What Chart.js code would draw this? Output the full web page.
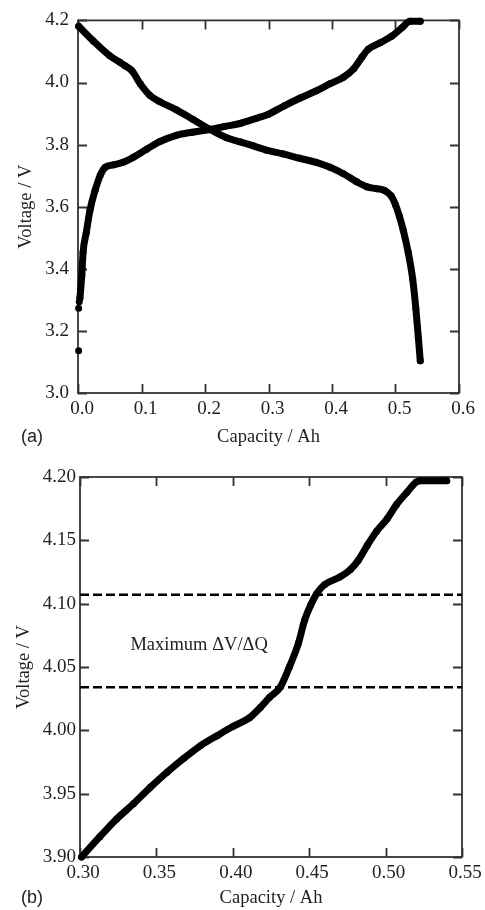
<!DOCTYPE html>
<html>
<head>
<meta charset="utf-8">
<title>Voltage vs capacity</title>
<script src="https://cdn.jsdelivr.net/npm/chart.js@4/dist/chart.umd.min.js"></script>
<style>
  html, body { margin: 0; padding: 0; background: #fff; }
  #wrap { position: relative; width: 485px; height: 910px; }
  canvas { position: absolute; left: 0; }
</style>
</head>
<body>
<div id="wrap">
  <canvas id="panelA" width="485" height="455" style="top:0"></canvas>
  <canvas id="panelB" width="485" height="455" style="top:455px"></canvas>
</div>
<script>
// ---- Panel (a): full discharge and charge curves ----
const dischargeCap = [0.001, 0.024, 0.050, 0.066, 0.074, 0.085, 0.098, 0.113, 0.129, 0.155,
  0.182, 0.208, 0.234, 0.255, 0.276, 0.297, 0.323, 0.349, 0.375, 0.397,
  0.418, 0.439, 0.455, 0.470, 0.483, 0.493, 0.500, 0.506, 0.512, 0.520,
  0.527, 0.532, 0.536, 0.539];
const dischargeV = [4.181, 4.134, 4.086, 4.065, 4.054, 4.038, 3.996, 3.959, 3.938, 3.912,
  3.880, 3.849, 3.822, 3.809, 3.796, 3.782, 3.770, 3.756, 3.743, 3.727,
  3.706, 3.680, 3.664, 3.658, 3.652, 3.635, 3.606, 3.570, 3.526, 3.453,
  3.368, 3.273, 3.178, 3.104];

// first few logged charge samples, before the curve becomes continuous
const chargeStartCap = [0.001, 0.001, 0.002];
const chargeStartV = [3.136, 3.273, 3.294];

const chargeCap = [0.003, 0.006, 0.008, 0.013, 0.019, 0.027, 0.035, 0.043, 0.056, 0.071,
  0.087, 0.108, 0.129, 0.155, 0.180, 0.205, 0.230, 0.255, 0.280, 0.300,
  0.325, 0.350, 0.375, 0.397, 0.418, 0.434, 0.447, 0.457, 0.476, 0.494,
  0.510, 0.523, 0.539];
const chargeV = [3.305, 3.379, 3.453, 3.516, 3.590, 3.653, 3.701, 3.727, 3.735, 3.743,
  3.759, 3.785, 3.810, 3.830, 3.840, 3.848, 3.858, 3.868, 3.884, 3.898,
  3.925, 3.950, 3.973, 3.996, 4.017, 4.044, 4.081, 4.107, 4.128, 4.149,
  4.176, 4.197, 4.197];

// ---- Panel (b): end of charge, enlarged ----
const endCap = [0.301, 0.313, 0.324, 0.335, 0.346, 0.357, 0.368, 0.379, 0.390, 0.400,
  0.411, 0.418, 0.424, 0.431, 0.437, 0.443, 0.447, 0.451, 0.455, 0.460,
  0.470, 0.477, 0.482, 0.488, 0.494, 0.501, 0.507, 0.514, 0.520, 0.523, 0.540];
const endV = [3.900, 3.916, 3.930, 3.942, 3.955, 3.967, 3.978, 3.988, 3.996, 4.003,
  4.010, 4.018, 4.026, 4.034, 4.050, 4.069, 4.087, 4.099, 4.108, 4.115,
  4.121, 4.127, 4.134, 4.146, 4.157, 4.167, 4.178, 4.188, 4.196, 4.197, 4.197];

// voltage window of the steepest dV/dQ step
const dvdqBounds = [4.034, 4.107];

// axis ranges and tick steps
const axisA = { xMin: 0, xMax: 0.6, xStep: 0.1, xDec: 1, yMin: 3.0, yMax: 4.2, yStep: 0.2, yDec: 1 };
const axisB = { xMin: 0.30, xMax: 0.55, xStep: 0.05, xDec: 2, yMin: 3.90, yMax: 4.20, yStep: 0.05, yDec: 2 };

const TEXT = '#222';
const SERIF = '"Liberation Serif", "Times New Roman", Times, serif';
const SANS = '"Liberation Sans", Arial, Helvetica, sans-serif';

const toPoints = (xs, ys) => xs.map((x, i) => ({ x, y: ys[i] }));

// box frame with inward tick marks on all four sides, plus panel letter and note
const framePlugin = {
  id: 'frame',
  beforeDatasetsDraw(chart, args, opts) {
    const { ctx, chartArea: a, scales } = chart;
    const L = 9;
    ctx.save();
    ctx.strokeStyle = '#333';
    ctx.lineWidth = 1.8;
    ctx.strokeRect(a.left, a.top, a.right - a.left, a.bottom - a.top);
    ctx.beginPath();
    scales.x.ticks.forEach(t => {
      const px = Math.round(scales.x.getPixelForValue(t.value)) + 0.5;
      ctx.moveTo(px, a.bottom); ctx.lineTo(px, a.bottom - L);
      ctx.moveTo(px, a.top); ctx.lineTo(px, a.top + L);
    });
    scales.y.ticks.forEach(t => {
      const py = Math.round(scales.y.getPixelForValue(t.value)) + 0.5;
      ctx.moveTo(a.left, py); ctx.lineTo(a.left + L, py);
      ctx.moveTo(a.right, py); ctx.lineTo(a.right - L, py);
    });
    ctx.stroke();
    ctx.restore();
  },
  afterDraw(chart, args, opts) {
    const { ctx, scales } = chart;
    ctx.save();
    ctx.fillStyle = TEXT;
    ctx.textBaseline = 'middle';
    if (opts.panel) {
      ctx.font = '18px ' + SANS;
      ctx.textAlign = 'left';
      ctx.fillText(opts.panel.text, opts.panel.x, opts.panel.y);
    }
    if (opts.note) {
      ctx.font = '18.5px ' + SERIF;
      ctx.textAlign = 'left';
      ctx.fillText(opts.note.text,
        scales.x.getPixelForValue(opts.note.xValue),
        scales.y.getPixelForValue(opts.note.yValue));
    }
    ctx.restore();
  }
};

function makePanel(canvas, axis, datasets, box, extras) {
  return new Chart(canvas, {
    type: 'scatter',
    data: { datasets },
    options: {
      responsive: false,
      animation: false,
      events: [],
      layout: { padding: { left: 0, top: box.top, right: box.right, bottom: 0 } },
      plugins: {
        legend: { display: false },
        tooltip: { enabled: false },
        frame: extras
      },
      scales: {
        x: {
          type: 'linear',
          min: axis.xMin, max: axis.xMax,
          grid: { display: false, drawTicks: false },
          border: { display: false },
          ticks: {
            stepSize: axis.xStep, autoSkip: false, maxRotation: 0,
            padding: box.xTickPad, labelOffset: box.xLabelShift,
            color: TEXT, font: { family: SERIF, size: 19 },
            callback: v => Number(v).toFixed(axis.xDec)
          },
          title: {
            display: true, text: 'Capacity / Ah', color: TEXT,
            font: { family: SERIF, size: 18.5 },
            padding: { top: box.xTitlePad, bottom: box.xTitlePad }
          },
          afterFit(s) { s.height = box.xAxisHeight; }
        },
        y: {
          type: 'linear',
          min: axis.yMin, max: axis.yMax,
          grid: { display: false, drawTicks: false },
          border: { display: false },
          ticks: {
            stepSize: axis.yStep, autoSkip: false,
            padding: box.yTickPad,
            color: TEXT, font: { family: SERIF, size: 19 },
            callback: v => Number(v).toFixed(axis.yDec)
          },
          title: {
            display: true, text: 'Voltage / V', color: TEXT,
            font: { family: SERIF, size: 18.5 },
            padding: { top: box.yTitlePad, bottom: box.yTitlePad }
          },
          afterFit(s) { s.width = box.yAxisWidth; }
        }
      }
    },
    plugins: [framePlugin]
  });
}

const curveStyle = {
  showLine: true,
  cubicInterpolationMode: 'monotone',
  borderColor: '#000',
  backgroundColor: '#000',
  borderWidth: 7,
  borderCapStyle: 'round',
  borderJoinStyle: 'round',
  pointRadius: 3.5,
  pointBorderWidth: 0,
  pointBackgroundColor: '#000',
  clip: false
};

makePanel(document.getElementById('panelA'), axisA, [
  { ...curveStyle, label: 'Discharge', data: toPoints(dischargeCap, dischargeV) },
  { ...curveStyle, label: 'Charge', data: toPoints(chargeCap, chargeV) },
  { ...curveStyle, label: 'Charge start', showLine: false, data: toPoints(chargeStartCap, chargeStartV) }
], {
  top: 14, right: 26, yAxisWidth: 78, xAxisHeight: 62,
  xTickPad: 5, xLabelShift: 4, yTickPad: 9, xTitlePad: 7, yTitlePad: 15
}, {
  panel: { text: '(a)', x: 21, y: 437 }
});

const dashStyle = {
  showLine: true,
  borderColor: '#000',
  borderWidth: 2.4,
  borderDash: [9, 4],
  pointRadius: 0,
  clip: false
};

makePanel(document.getElementById('panelB'), axisB, [
  { ...curveStyle, label: 'Charge', data: toPoints(endCap, endV) },
  { ...dashStyle, label: 'Lower bound', data: [{ x: axisB.xMin, y: dvdqBounds[0] }, { x: axisB.xMax, y: dvdqBounds[0] }] },
  { ...dashStyle, label: 'Upper bound', data: [{ x: axisB.xMin, y: dvdqBounds[1] }, { x: axisB.xMax, y: dvdqBounds[1] }] }
], {
  top: 22, right: 23, yAxisWidth: 80, xAxisHeight: 53,
  xTickPad: 5, xLabelShift: 3, yTickPad: 4, xTitlePad: 1, yTitlePad: 13
}, {
  panel: { text: '(b)', x: 21, y: 443 },
  note: { text: 'Maximum \u0394V/\u0394Q', xValue: 0.333, yValue: 4.067 }
});
</script>
</body>
</html>
